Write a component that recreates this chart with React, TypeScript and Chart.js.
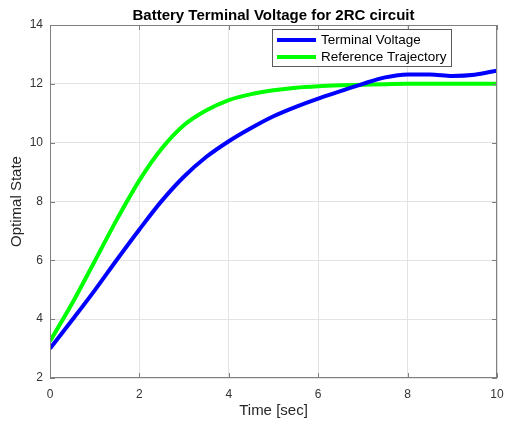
import React, { useEffect, useRef } from "react";
import { Chart, registerables } from "chart.js";

Chart.register(...registerables);

const chartTitle = "Battery Terminal Voltage for 2RC circuit";
const xAxisTitle = "Time [sec]";
const yAxisTitle = "Optimal State";
const seriesNames = ["Terminal Voltage", "Reference Trajectory"];

const timeSec = [0, 0.5, 1, 1.5, 2, 2.5, 3, 3.5, 4, 4.5, 5, 5.5, 6, 6.5, 7, 7.5, 8, 8.5, 9, 9.5, 10];
const terminalVoltage = [3.0, 3.98, 4.98, 6.03, 7.05, 8.02, 8.85, 9.52, 10.05, 10.5, 10.9, 11.22, 11.5, 11.75, 12.0, 12.22, 12.32, 12.32, 12.27, 12.31, 12.45];
const referenceTrajectory = [3.25, 4.55, 5.97, 7.4, 8.72, 9.8, 10.6, 11.1, 11.45, 11.65, 11.78, 11.87, 11.92, 11.95, 11.97, 11.99, 12.0, 12.0, 12.0, 12.0, 12.0];

const xTicks = [0, 2, 4, 6, 8, 10];
const yTicks = [2, 4, 6, 8, 10, 12, 14];

const FONT = '"Liberation Sans", Arial, Helvetica, sans-serif';

const decorPlugin = {
  id: "decor",
  afterDraw(chart: any) {
    const ctx = chart.ctx;
    const a = chart.chartArea;
    const xs = chart.scales.x;
    const ys = chart.scales.y;
    ctx.save();
    // box
    ctx.strokeStyle = "#7f7f7f";
    ctx.lineWidth = 1;
    ctx.strokeRect(Math.round(a.left) + 0.5, Math.round(a.top) + 0.5, Math.round(a.right - a.left) - 1, Math.round(a.bottom - a.top) - 1);
    // inward ticks
    ctx.beginPath();
    for (const v of xTicks) {
      const px = Math.round(xs.getPixelForValue(v)) + 0.5;
      ctx.moveTo(px, a.bottom);
      ctx.lineTo(px, a.bottom - 5);
      ctx.moveTo(px, a.top);
      ctx.lineTo(px, a.top + 5);
    }
    for (const v of yTicks) {
      const py = Math.round(ys.getPixelForValue(v)) + 0.5;
      ctx.moveTo(a.left, py);
      ctx.lineTo(a.left + 5, py);
      ctx.moveTo(a.right, py);
      ctx.lineTo(a.right - 5, py);
    }
    ctx.stroke();
    // title
    ctx.fillStyle = "#000";
    ctx.font = `bold 15px ${FONT}`;
    ctx.textAlign = "center";
    ctx.textBaseline = "middle";
    ctx.fillText(chartTitle, (a.left + a.right) / 2, 16);
    // axis titles
    ctx.fillStyle = "#262626";
    ctx.font = `15px ${FONT}`;
    ctx.fillText(xAxisTitle, (a.left + a.right) / 2, 411);
    ctx.save();
    ctx.translate(17, (a.top + a.bottom) / 2);
    ctx.rotate(-Math.PI / 2);
    ctx.fillText(yAxisTitle, 0, 0);
    ctx.restore();
    // legend
    const lx = 272, ly = 29, lw = 180, lh = 38;
    ctx.fillStyle = "#fff";
    ctx.fillRect(lx, ly, lw, lh);
    ctx.strokeStyle = "#5a5a5a";
    ctx.lineWidth = 1;
    ctx.strokeRect(lx + 0.5, ly + 0.5, lw - 1, lh - 1);
    const colors = ["#0000ff", "#00ff00"];
    const rows = [40, 57];
    ctx.font = `13.5px ${FONT}`;
    ctx.textAlign = "left";
    for (let i = 0; i < 2; i++) {
      ctx.strokeStyle = colors[i];
      ctx.lineWidth = 4;
      ctx.beginPath();
      ctx.moveTo(277, rows[i]);
      ctx.lineTo(316, rows[i]);
      ctx.stroke();
      ctx.fillStyle = "#000";
      ctx.fillText(seriesNames[i], 321, rows[i] + 0.5);
    }
    ctx.restore();
  },
};

export default function App() {
  const ref = useRef<HTMLCanvasElement | null>(null);
  useEffect(() => {
    document.body.style.margin = "0";
    const canvas = ref.current!;
    const chart = new Chart(canvas, {
      type: "line",
      data: {
        datasets: [
          {
            label: seriesNames[0],
            data: timeSec.map((t, i) => ({ x: t, y: terminalVoltage[i] })),
            borderColor: "#0000ff",
            borderWidth: 4,
            pointRadius: 0,
            cubicInterpolationMode: "monotone",
            fill: false,
          },
          {
            label: seriesNames[1],
            data: timeSec.map((t, i) => ({ x: t, y: referenceTrajectory[i] })),
            borderColor: "#00ff00",
            borderWidth: 4,
            pointRadius: 0,
            cubicInterpolationMode: "monotone",
            fill: false,
          },
        ],
      },
      options: {
        responsive: false,
        animation: false,
        devicePixelRatio: 1,
        layout: { padding: { top: 25, right: 10, left: 0, bottom: 0 } },
        plugins: { legend: { display: false }, title: { display: false }, tooltip: { enabled: false } },
        scales: {
          x: {
            type: "linear",
            min: 0,
            max: 10,
            afterFit: (s: any) => { s.height = 47; s.paddingLeft = 0; s.paddingRight = 0; },
            afterBuildTicks: (s: any) => { s.ticks = xTicks.map((v) => ({ value: v })); },
            grid: { color: "#e3e3e3", drawTicks: false },
            border: { display: false },
            ticks: { color: "#333", font: { family: FONT, size: 12 }, padding: 9, maxRotation: 0 },
          },
          y: {
            type: "linear",
            min: 2,
            max: 14,
            afterFit: (s: any) => { s.width = 50; s.paddingTop = 0; s.paddingBottom = 0; },
            afterBuildTicks: (s: any) => { s.ticks = yTicks.map((v) => ({ value: v })); },
            grid: { color: "#e3e3e3", drawTicks: false },
            border: { display: false },
            ticks: { color: "#333", font: { family: FONT, size: 12 }, padding: 7 },
          },
        },
      },
      plugins: [decorPlugin],
    } as any);
    return () => chart.destroy();
  }, []);
  return (
    <div style={{ width: 507, height: 425 }}>
      <canvas ref={ref} width={507} height={425} />
    </div>
  );
}
